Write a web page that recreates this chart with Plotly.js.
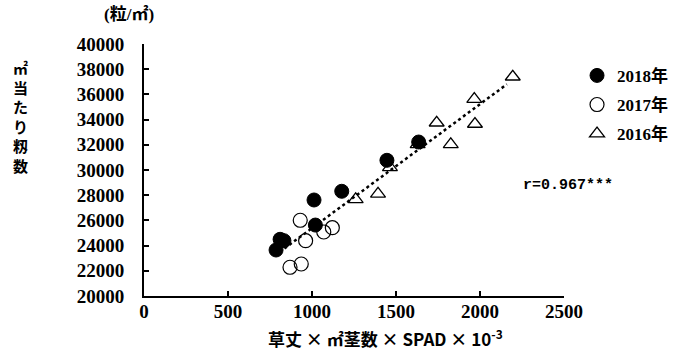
<!DOCTYPE html>
<html><head><meta charset="utf-8">
<script src="https://cdn.plot.ly/plotly-3.0.1.min.js"></script>
<style>body{margin:0;background:#fff}#chart{width:675px;height:351px}</style>
</head><body><div id="chart"></div>
<script>
// 2018
const x2018 = [786, 810, 833, 1012, 1020, 1177, 1446, 1635];
const y2018 = [23650, 24500, 24390, 27620, 25630, 28310, 30770, 32220];
// 2017
const x2017 = [930, 962, 869, 936, 1070, 1121];
const y2017 = [26010, 24390, 22280, 22540, 25080, 25420];
// 2016
const x2016 = [1260, 1393, 1464, 1629, 1742, 1826, 1966, 1970, 2195];
const y2016 = [27670, 28100, 30210, 32040, 33750, 32040, 35630, 33650, 37400];
const seriesNames = ['2018年', '2017年', '2016年'];
const xTicks = [0, 500, 1000, 1500, 2000, 2500];
const yTicks = [20000, 22000, 24000, 26000, 28000, 30000, 32000, 34000, 36000, 38000, 40000];
const rLabel = 'r=0.967***';
const xTitle = '草丈 × ㎡茎数 × SPAD × 10<sup>-3</sup>';

// regression line from all points
const ax = x2018.concat(x2017, x2016), ay = y2018.concat(y2017, y2016);
const n = ax.length;
const mx = ax.reduce((a,b)=>a+b,0)/n, my = ay.reduce((a,b)=>a+b,0)/n;
let sxy=0, sxx=0;
for (let i=0;i<n;i++){ sxy+=(ax[i]-mx)*(ay[i]-my); sxx+=(ax[i]-mx)**2; }
const slope = sxy/sxx, icpt = my - slope*mx;
const lx = [Math.min(...ax)+50, Math.max(...ax)-35];
const ly = lx.map(v=>icpt+slope*v);

const fNum = {family:'"Liberation Serif", serif', size:19, color:'#000', weight:700};
const fJp = {family:'"Liberation Serif", "Noto Sans CJK JP", serif', size:16, color:'#000', weight:700};

const traces = [
 {x:lx, y:ly, mode:'lines', line:{color:'#000', width:2.5, dash:'dot'}, showlegend:false, hoverinfo:'skip'},
 {x:x2018, y:y2018, mode:'markers', name:seriesNames[0], legendgroup:'a',
  marker:{symbol:'circle', size:14, color:'#000', line:{color:'#000', width:1}}},
 {x:x2017, y:y2017, mode:'markers', name:seriesNames[1], legendgroup:'b',
  marker:{symbol:'circle-open', size:14, color:'#000', line:{color:'#000', width:1.2}}},
 {x:x2016, y:y2016, mode:'markers', name:seriesNames[2], legendgroup:'c',
  marker:{symbol:'triangle-up-open', size:13, color:'#000', line:{color:'#000', width:1.3}}}
];

const layout = {
 width:675, height:351,
 margin:{l:144, r:111, t:44, b:55, autoexpand:false},
 paper_bgcolor:'#fff', plot_bgcolor:'#fff',
 showlegend:true,
 legend:{x:1.031, y:0.945, xanchor:'left', yanchor:'top', font:{family:'"Liberation Serif", "Noto Sans CJK JP", serif', size:17, weight:700, color:'#000'},
   tracegroupgap:4, itemwidth:30, bgcolor:'rgba(0,0,0,0)'},
 xaxis:{range:[0,2500], tickvals:xTicks, ticktext:xTicks.map(String), showgrid:false, zeroline:false,
   showline:true, linecolor:'#000', linewidth:2, ticks:'inside', ticklen:5, tickwidth:2, tickcolor:'#000',
   tickfont:fNum, ticklabelstandoff:-3},
 yaxis:{range:[20000,40000], tickvals:yTicks, ticktext:yTicks.map(String), showgrid:false, zeroline:false,
   showline:true, linecolor:'#000', linewidth:2, ticks:'inside', ticklen:5, tickwidth:2, tickcolor:'#000',
   tickfont:fNum, ticklabelstandoff:14},
 annotations:[
  {xref:'paper', yref:'paper', x:0.576, y:-0.167, xanchor:'center', yanchor:'middle', text:xTitle, showarrow:false, font:{family:'"Noto Sans CJK JP", sans-serif', size:17, weight:700, color:'#000'}},
  {xref:'paper', yref:'paper', x:-0.035, y:1.07, xanchor:'center', yanchor:'bottom', text:'(粒/㎡)', showarrow:false, font:{...fJp, size:17}},
  {xref:'paper', yref:'paper', x:-0.295, y:0.945, xanchor:'center', yanchor:'top', text:'㎡<br>当<br>た<br>り<br>籾<br>数', showarrow:false, font:{...fJp, size:15}},
  {xref:'paper', yref:'paper', x:1.0095, y:0.437, xanchor:'center', yanchor:'middle', text:rLabel, showarrow:false, font:{family:'"Liberation Mono", monospace', size:15, weight:700, color:'#000'}}
 ]
};
Plotly.newPlot('chart', traces, layout, {displayModeBar:false, staticPlot:true});
</script></body></html>
